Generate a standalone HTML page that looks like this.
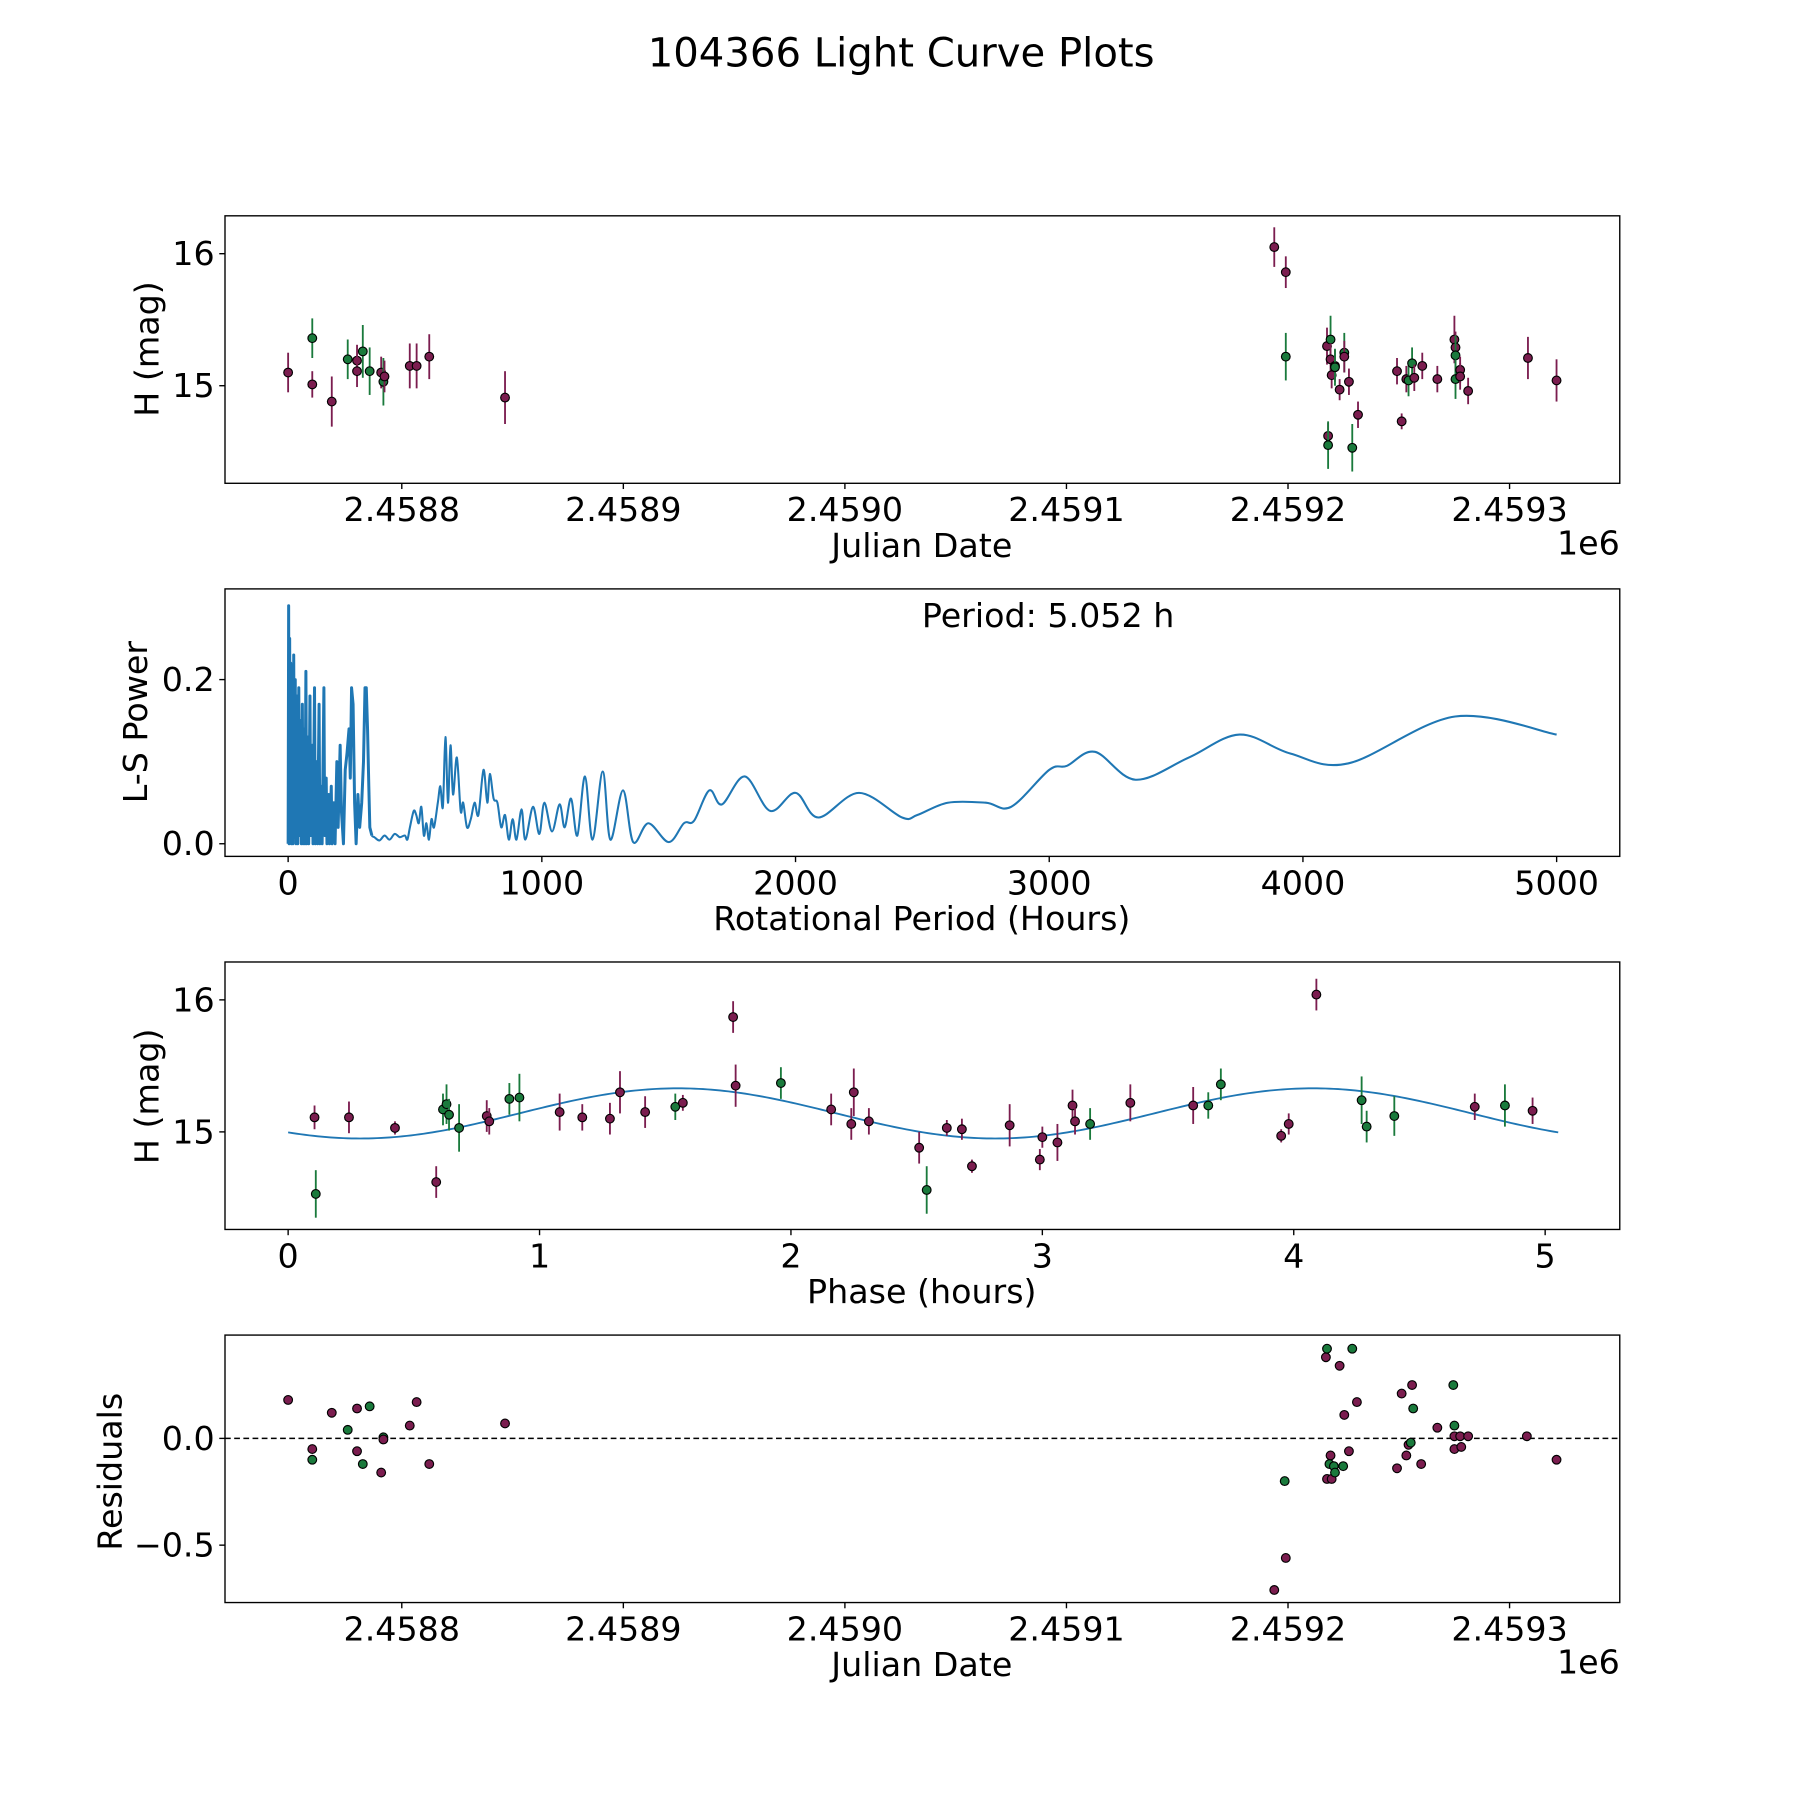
<!DOCTYPE html>
<html><head><meta charset="utf-8"><style>
html,body{margin:0;padding:0;background:#fff;}
svg{display:block;font-family:"DejaVu Sans","Liberation Sans",sans-serif;}
</style></head><body>
<svg id="fig" width="1800" height="1800" viewBox="0 0 1568 1568" xmlns="http://www.w3.org/2000/svg">
<rect width="1568" height="1568" fill="#fff"/>
<text x="785" y="58" font-size="35" text-anchor="middle">104366 Light Curve Plots</text>
</svg>
<script>
// ---------- Panel 1: light curve (JD, mag) ----------
const lcJD = [2458748.7,2458759.6,2458759.6,2458768.4,2458775.6,2458779.8,2458779.8,2458782.4,2458785.5,2458790.7,2458791.7,2458792.2,2458803.6,2458806.7,2458812.4,2458846.6,
2459193.8,2459199.0,2459199.0,2459217.6,2459218.1,2459218.1,2459219.2,2459219.2,2459219.7,2459221.2,2459221.2,2459223.3,2459225.4,2459225.4,2459227.5,2459229.0,2459231.6,
2459249.2,2459251.3,2459253.4,2459254.4,2459256.0,2459257.0,2459260.6,2459267.4,2459275.1,2459275.6,2459275.6,2459275.6,2459277.7,2459277.7,2459281.3,2459308.3,2459321.2];
const lcMag = [15.10,15.36,15.01,14.88,15.20,15.19,15.11,15.26,15.11,15.10,15.03,15.07,15.15,15.15,15.22,14.91,
16.05,15.86,15.22,15.30,14.62,14.55,15.35,15.20,15.08,15.15,15.14,14.97,15.25,15.22,15.03,14.53,14.78,
15.11,14.73,15.05,15.04,15.17,15.06,15.15,15.05,15.35,15.29,15.23,15.05,15.12,15.07,14.96,15.21,15.04];
const lcErr = [0.15,0.15,0.10,0.19,0.15,0.12,0.12,0.20,0.18,0.12,0.18,0.12,0.17,0.17,0.17,0.20,
0.15,0.12,0.18,0.14,0.10,0.18,0.18,0.12,0.10,0.12,0.14,0.08,0.15,0.12,0.10,0.18,0.10,
0.10,0.06,0.10,0.12,0.12,0.10,0.10,0.10,0.18,0.12,0.15,0.15,0.10,0.10,0.10,0.16,0.16];
const lcBand = ['p','g','p','p','g','p','p','g','g','p','g','p','p','p','p','p',
'p','p','g','p','p','g','g','p','p','p','g','p','g','p','p','g','p',
'p','p','p','g','g','p','p','p','p','p','g','g','p','p','p','p','p'];
const jdTicks = [2458800,2458900,2459000,2459100,2459200,2459300];
const jdTickLabels = ['2.4588','2.4589','2.4590','2.4591','2.4592','2.4593'];
const magTicks = [15,16];

// ---------- Panel 2: periodogram ----------
const lsPeriod = [0,2,4,6,8,10,13,16,19,22,25,28,31,35,38,42,45,49,52,56,59,63,66,70,73,78,81,86,89,95,98,104,107,113,116,122,125,131,134,141,144,150,153,160,163,170,173,180,185,192,197,205,210,218,225,232,240,245,250,256,262,268,275,282,290,297,303,308,313,318,322,330,
340,360,380,400,420,440,460,470,480,495,505,515,525,535,545,555,565,575,590,600,610,620,630,640,650,665,680,690,705,720,735,750,770,785,795,810,825,840,855,870,885,900,920,935,965,990,1010,1040,1070,1090,1115,1140,1170,1200,1240,1270,1320,1360,1420,1500,1560,1600,1660,1710,1800,1900,2000,2090,2250,2420,2480,2600,2750,2850,3000,3070,3180,3340,3550,3750,3950,4180,4600,5000];
const lsPower = [0,0.29,0,0.25,0.02,0.22,0,0.2,0,0.23,0.01,0.2,0,0.18,0,0.19,0.01,0.15,0,0.17,0,0.14,0,0.21,0,0.13,0,0.18,0.01,0.12,0,0.19,0,0.1,0,0.17,0,0.07,0,0.19,0.01,0.08,0,0.06,0,0.07,0,0.05,0,0.1,0.02,0.12,0.04,0,0.09,0.11,0.14,0.08,0.19,0.17,0.05,0,0.06,0.02,0.05,0.1,0.19,0.19,0.14,0.07,0.02,0.01,
0.008,0.004,0.01,0.005,0.012,0.008,0.01,0.005,0.02,0.04,0.035,0.025,0.045,0.01,0.025,0.005,0.03,0.02,0.05,0.07,0.045,0.13,0.05,0.12,0.06,0.105,0.04,0.05,0.02,0.03,0.05,0.035,0.09,0.05,0.085,0.055,0.05,0.02,0.035,0.005,0.03,0.005,0.042,0.005,0.045,0.012,0.05,0.015,0.048,0.02,0.055,0.01,0.082,0.005,0.088,0.005,0.065,0.002,0.025,0.002,0.025,0.028,0.065,0.048,0.082,0.04,0.062,0.032,0.062,0.032,0.035,0.05,0.05,0.045,0.09,0.095,0.112,0.078,0.105,0.133,0.11,0.098,0.155,0.133];
const lsXTicks = [0,1000,2000,3000,4000,5000];
const lsYTicks = [0.0,0.2];
const lsYTickLabels = ['0.0','0.2'];

// ---------- Panel 3: phased ----------
const phPhase = [0.105,0.11,0.242,0.425,0.589,0.616,0.63,0.64,0.68,0.79,0.80,0.88,0.92,1.08,1.17,1.28,1.32,1.42,1.54,1.57,1.77,1.78,1.96,2.16,2.24,2.25,2.31,2.51,2.54,2.62,2.68,2.72,2.87,2.99,3.0,3.06,3.12,3.13,3.19,3.35,3.60,3.66,3.71,3.95,3.98,4.09,4.27,4.29,4.40,4.72,4.84,4.95];
const phMag = [15.11,14.53,15.11,15.03,14.62,15.17,15.21,15.13,15.03,15.12,15.08,15.25,15.26,15.15,15.11,15.10,15.30,15.15,15.19,15.22,15.87,15.35,15.37,15.17,15.06,15.30,15.08,14.88,14.56,15.03,15.02,14.74,15.05,14.79,14.96,14.92,15.2,15.08,15.06,15.22,15.2,15.2,15.36,14.97,15.06,16.04,15.24,15.04,15.12,15.19,15.2,15.16];
const phErr = [0.09,0.18,0.12,0.05,0.12,0.12,0.15,0.12,0.18,0.12,0.10,0.12,0.18,0.14,0.10,0.12,0.16,0.12,0.10,0.06,0.12,0.16,0.12,0.12,0.12,0.18,0.10,0.12,0.18,0.06,0.08,0.05,0.16,0.08,0.08,0.14,0.12,0.10,0.12,0.14,0.14,0.10,0.12,0.05,0.08,0.12,0.18,0.12,0.15,0.10,0.16,0.10];
const phBand = ['p','g','p','p','p','g','g','g','g','p','p','g','g','p','p','p','p','p','g','p','p','p','g','p','p','p','p','p','g','p','p','p','p','p','p','p','p','p','g','p','p','g','g','p','p','p','g','g','g','p','g','p'];
const fitParams = [15.14, 0.19, 2.526, 1.55]; // mean, amplitude, period(h), phase of max
const phXTicks = [0,1,2,3,4,5];

// ---------- Panel 4: residuals ----------
const resJD = [2458748.7,2458759.6,2458759.6,2458768.4,2458775.6,2458779.8,2458779.8,2458782.4,2458785.5,2458790.7,2458791.7,2458791.7,2458803.6,2458806.7,2458812.4,2458846.6,
2459193.8,2459199.0,2459198.5,2459217.1,2459217.6,2459217.6,2459219.7,2459219.2,2459218.7,2459220.7,2459221.2,2459223.3,2459224.9,2459225.4,2459227.5,2459229.0,2459231.1,
2459249.2,2459251.3,2459253.4,2459254.4,2459255.4,2459256.0,2459256.5,2459260.1,2459267.4,2459274.6,2459275.1,2459275.1,2459275.1,2459277.7,2459278.2,2459281.3,2459307.8,2459321.2];
const resVal = [0.18,-0.05,-0.10,0.12,0.04,0.14,-0.06,-0.12,0.15,-0.16,0.005,-0.005,0.06,0.17,-0.12,0.07,
-0.71,-0.56,-0.20,0.38,0.42,-0.19,-0.19,-0.08,-0.12,-0.13,-0.16,0.34,-0.13,0.11,-0.06,0.42,0.17,
-0.14,0.21,-0.08,-0.03,-0.02,0.25,0.14,-0.12,0.05,0.25,0.06,0.01,-0.05,0.01,-0.04,0.01,0.01,-0.10];
const resBand = ['p','p','g','p','g','p','p','g','g','p','g','p','p','p','p','p',
'p','p','g','p','g','p','p','p','g','g','g','p','g','p','p','g','p',
'p','p','p','p','g','p','g','p','p','g','g','p','p','p','p','p','p','p'];
const resYTicks = [-0.5,0.0];
const resYTickLabels = ['\u22120.5','0.0'];

const NS = 'http://www.w3.org/2000/svg';
const svg = document.getElementById('fig');
const COL = {p:'#7b1d4f', g:'#1a7a3c'};
const L = 196, R = 1411;
const TFS = 29, LFS = 29;
function mk(tag, attrs, parent){ const e=document.createElementNS(NS,tag); for(const k in attrs) e.setAttribute(k,attrs[k]); (parent||svg).appendChild(e); return e; }
function linScale(d0,d1,r0,r1){ return v => r0+(v-d0)*(r1-r0)/(d1-d0); }

function axesFrame(name, top, bot){
  const g = mk('g',{});
  
  
  const r = mk('rect',{x:L,y:top,width:R-L,height:bot-top,fill:'none',stroke:'#000','stroke-width':1.2},g);
  
  
  return g;
}
function xTicks(g, ticks, labels, sx, bot, name){
  ticks.forEach((t,i)=>{
    const x = sx(t);
    mk('line',{x1:x,x2:x,y1:bot,y2:bot+5,stroke:'#000','stroke-width':1.2},g);
    const tx = mk('text',{x:x,y:bot+33,'font-size':TFS,'text-anchor':'middle'},g);
    
    
    tx.textContent = labels[i];
  });
}
function yTicks(g, ticks, labels, sy, name){
  ticks.forEach((t,i)=>{
    const y = sy(t);
    mk('line',{x1:L-5,x2:L,y1:y,y2:y,stroke:'#000','stroke-width':1.2},g);
    const tx = mk('text',{x:L-9,y:y+10,'font-size':TFS,'text-anchor':'end'},g);
    
    
    tx.textContent = labels[i];
  });
}
function label(g, txt, x, y, rot, name){
  const t = mk('text',{x:x,y:y,'font-size':LFS,'text-anchor':'middle'},g);
  if(rot) t.setAttribute('transform','rotate(-90 '+x+' '+y+')');
  
  
  t.textContent = txt;
}
function point(g, x, y, band, errPx){
  if(errPx>0){
    const e = mk('line',{x1:x,x2:x,y1:y-errPx,y2:y+errPx,stroke:COL[band],'stroke-width':1.6},g);
    
    
  }
  const c = mk('circle',{cx:x,cy:y,r:3.8,fill:COL[band],stroke:'#000','stroke-width':1},g);
  
  
}
function jdPanel(){ return linScale(2458800, 2458900, 350, 543); }

// Panel 1
(function(){
  const top=188, bot=421;
  const g = axesFrame('light-curve-panel', top, bot);
  const sx = jdPanel();
  const sy = linScale(15,16,336,221);
  lcJD.forEach((d,i)=>point(g, sx(d), sy(lcMag[i]), lcBand[i], lcErr[i]*115));
  xTicks(g, jdTicks, jdTickLabels, sx, bot, 'jd-x');
  yTicks(g, magTicks, magTicks.map(String), sy, 'mag-y');
  label(g,'Julian Date',803,485,false,'x-axis-title-jd');
  label(g,'H (mag)',138,304,true,'y-axis-title-mag');
  const e = mk('text',{x:1411,y:483,'font-size':TFS,'text-anchor':'end'},g);
    e.textContent='1e6';
})();

// Panel 2
(function(){
  const top=513, bot=746;
  const g = axesFrame('periodogram-panel', top, bot);
  const sx = linScale(0,5000,251,1356);
  const sy = linScale(0,0.2,735,592);
  const pts = lsPeriod.map((p,i)=>[sx(p), sy(lsPower[i])]);
  const split = lsPeriod.indexOf(330);
  let d1='';
  for(let i=0;i<=split;i++) d1 += (i?'L':'M')+pts[i][0].toFixed(2)+','+pts[i][1].toFixed(2);
  const dense = mk('path',{d:d1,fill:'none',stroke:'#1f77b4','stroke-width':2.6,'stroke-linejoin':'round'},g);
  
  
  let d='M'+pts[split][0].toFixed(2)+','+pts[split][1].toFixed(2);
  for(let i=split+1;i<pts.length;i++){
    const p0=pts[i-2], p1=pts[i-1], p2=pts[i], p3=pts[i+1]||pts[i];
    const c1x=p1[0]+(p2[0]-p0[0])/6, c1y=p1[1]+(p2[1]-p0[1])/6;
    const c2x=p2[0]-(p3[0]-p1[0])/6, c2y=p2[1]-(p3[1]-p1[1])/6;
    d+='C'+c1x.toFixed(2)+','+c1y.toFixed(2)+' '+c2x.toFixed(2)+','+c2y.toFixed(2)+' '+p2[0].toFixed(2)+','+p2[1].toFixed(2);
  }
  const path = mk('path',{d:d,fill:'none',stroke:'#1f77b4','stroke-width':1.8,'stroke-linejoin':'round'},g);
  
  
  xTicks(g, lsXTicks, lsXTicks.map(String), sx, bot, 'period-x');
  yTicks(g, lsYTicks, lsYTickLabels, sy, 'power-y');
  label(g,'Rotational Period (Hours)',803,810,false,'x-axis-title-period');
  label(g,'L-S Power',128,629,true,'y-axis-title-power');
  const t = mk('text',{x:913,y:546,'font-size':LFS,'text-anchor':'middle'},g);
    t.textContent='Period: 5.052 h';
})();

// Panel 3
(function(){
  const top=838, bot=1071;
  const g = axesFrame('phased-panel', top, bot);
  const sx = linScale(0,5,251,1346);
  const sy = linScale(15,16,986,871);
  let d='';
  for(let k=0;k<=300;k++){
    const ph = 5.052*k/300;
    const m = fitParams[0]+fitParams[1]*Math.cos(2*Math.PI*(ph-fitParams[3])/fitParams[2]);
    d += (k?'L':'M')+sx(ph).toFixed(2)+','+sy(m).toFixed(2);
  }
  const fit = mk('path',{d:d,fill:'none',stroke:'#1f77b4','stroke-width':1.6},g);
  
  
  phPhase.forEach((p,i)=>point(g, sx(p), sy(phMag[i]), phBand[i], phErr[i]*115));
  xTicks(g, phXTicks, phXTicks.map(String), sx, bot, 'phase-x');
  yTicks(g, magTicks, magTicks.map(String), sy, 'phase-mag-y');
  label(g,'Phase (hours)',803,1135,false,'x-axis-title-phase');
  label(g,'H (mag)',138,955,true,'y-axis-title-phase-mag');
})();

// Panel 4
(function(){
  const top=1163, bot=1396;
  const g = axesFrame('residuals-panel', top, bot);
  const sx = jdPanel();
  const sy = linScale(0,-0.5,1253,1346);
  const z = mk('line',{x1:L,x2:R,y1:sy(0),y2:sy(0),stroke:'#000','stroke-width':1.3,'stroke-dasharray':'5,3'},g);
   
  resJD.forEach((d,i)=>point(g, sx(d), sy(resVal[i]), resBand[i], 0));
  xTicks(g, jdTicks, jdTickLabels, sx, bot, 'res-jd-x');
  yTicks(g, resYTicks, resYTickLabels, sy, 'res-y');
  label(g,'Julian Date',803,1460,false,'x-axis-title-res-jd');
  label(g,'Residuals',106,1282,true,'y-axis-title-residuals');
  const e = mk('text',{x:1411,y:1458,'font-size':TFS,'text-anchor':'end'},g);
    e.textContent='1e6';
})();
</script>
</body></html>
